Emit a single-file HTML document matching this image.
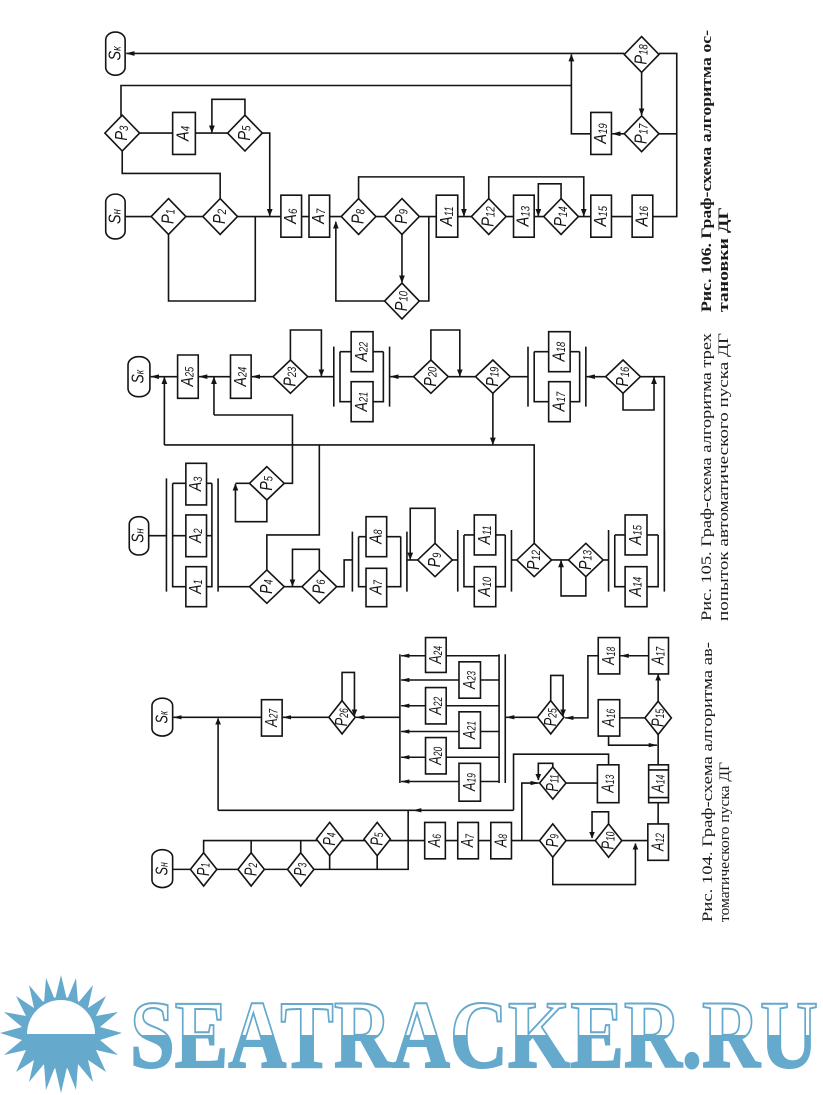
<!DOCTYPE html>
<html><head><meta charset="utf-8"><style>
html,body{margin:0;padding:0;background:#fff;}
svg{display:block;}
.g path{fill:none;stroke:#141414;stroke-width:1.6;vector-effect:non-scaling-stroke;}
.g rect,.g polygon{fill:#fff;stroke:#141414;stroke-width:1.6;vector-effect:non-scaling-stroke;}
.g text{font-family:"Liberation Sans",sans-serif;font-style:italic;font-size:42px;fill:#141414;text-anchor:middle;dominant-baseline:central;}
.g tspan{font-size:28px;}
.cap{font-family:"Liberation Serif","DejaVu Serif",serif;font-size:15px;fill:#1a1a1a;}
</style></head><body>
<svg width="823" height="1095" viewBox="0 0 823 1095" xmlns="http://www.w3.org/2000/svg">
<defs>
<marker id="a" markerUnits="userSpaceOnUse" markerWidth="22" markerHeight="14" refX="20" refY="7" orient="auto"><path d="M0,0 L22,7 L0,14 z" fill="#141414"/></marker>
<clipPath id="top"><rect x="0" y="960" width="823" height="75"/></clipPath>
<clipPath id="bot"><rect x="0" y="1035" width="823" height="60"/></clipPath>
</defs>

<!-- FIG 106 -->
<g class="g" transform="translate(90,20) scale(0.4132,0.3448)">
<path d="M85,570 H1420 V97 H1377"/>
<path d="M1293,97 H88" marker-end="url(#a)"/>
<path d="M1335,152 V276" marker-end="url(#a)"/>
<path d="M1377,330 H1420"/>
<path d="M1293,330 H1264" marker-end="url(#a)"/>
<path d="M1212,330 H1165 V100" marker-end="url(#a)"/>
<path d="M1165,190 H75 V278"/>
<path d="M120,328 H333"/>
<path d="M375,276 V230 H295 V326" marker-end="url(#a)"/>
<path d="M417,328 H435 V568" marker-end="url(#a)"/>
<path d="M78,380 V445 H315 V518"/>
<path d="M190,622 V815 H400 V570"/>
<path d="M650,518 V455 H905 V568" marker-end="url(#a)"/>
<path d="M713,815 H595 V585" marker-end="url(#a)"/>
<path d="M755,622 V761" marker-end="url(#a)"/>
<path d="M797,815 H820 V570"/>
<path d="M965,518 V455 H1195 V568" marker-end="url(#a)"/>
<path d="M1140,520 V475 H1085 V568" marker-end="url(#a)"/>
<rect x="38" y="35" width="47" height="125" rx="23"/>
<rect x="38" y="505" width="47" height="130" rx="23"/>
<polygon points="190,518 232,570 190,622 148,570"/>
<polygon points="315,518 357,570 315,622 273,570"/>
<polygon points="650,518 692,570 650,622 608,570"/>
<polygon points="755,518 797,570 755,622 713,570"/>
<polygon points="965,518 1007,570 965,622 923,570"/>
<polygon points="1140,518 1182,570 1140,622 1098,570"/>
<polygon points="755,763 797,815 755,867 713,815"/>
<polygon points="78,276 120,328 78,380 36,328"/>
<polygon points="375,276 417,328 375,380 333,328"/>
<polygon points="1335,48 1377,100 1335,152 1293,100"/>
<polygon points="1335,278 1377,330 1335,382 1293,330"/>
<rect x="462" y="508" width="50" height="122"/>
<rect x="530" y="508" width="50" height="122"/>
<rect x="838" y="508" width="52" height="122"/>
<rect x="1025" y="508" width="50" height="122"/>
<rect x="1212" y="508" width="50" height="122"/>
<rect x="1312" y="508" width="50" height="122"/>
<rect x="200" y="268" width="55" height="122"/>
<rect x="1212" y="268" width="50" height="122"/>
<text transform="translate(62,97) rotate(-90)">S<tspan dy="4">к</tspan></text>
<text transform="translate(62,570) rotate(-90)">S<tspan dy="4">н</tspan></text>
<text transform="translate(190,570) rotate(-90)">P<tspan dy="6">1</tspan></text>
<text transform="translate(315,570) rotate(-90)">P<tspan dy="6">2</tspan></text>
<text transform="translate(650,570) rotate(-90)">P<tspan dy="6">8</tspan></text>
<text transform="translate(755,570) rotate(-90)">P<tspan dy="6">9</tspan></text>
<text transform="translate(965,570) rotate(-90)">P<tspan dy="6">12</tspan></text>
<text transform="translate(1140,570) rotate(-90)">P<tspan dy="6">14</tspan></text>
<text transform="translate(755,815) rotate(-90)">P<tspan dy="6">10</tspan></text>
<text transform="translate(78,328) rotate(-90)">P<tspan dy="6">3</tspan></text>
<text transform="translate(375,328) rotate(-90)">P<tspan dy="6">5</tspan></text>
<text transform="translate(1335,100) rotate(-90)">P<tspan dy="6">18</tspan></text>
<text transform="translate(1335,330) rotate(-90)">P<tspan dy="6">17</tspan></text>
<text transform="translate(487,569) rotate(-90)">A<tspan dy="6">6</tspan></text>
<text transform="translate(555,569) rotate(-90)">A<tspan dy="6">7</tspan></text>
<text transform="translate(864,569) rotate(-90)">A<tspan dy="6">11</tspan></text>
<text transform="translate(1050,569) rotate(-90)">A<tspan dy="6">13</tspan></text>
<text transform="translate(1237,569) rotate(-90)">A<tspan dy="6">15</tspan></text>
<text transform="translate(1337,569) rotate(-90)">A<tspan dy="6">16</tspan></text>
<text transform="translate(227,329) rotate(-90)">A<tspan dy="6">4</tspan></text>
<text transform="translate(1237,329) rotate(-90)">A<tspan dy="6">19</tspan></text>
</g>

<!-- FIG 105 -->
<g class="g" transform="translate(90,320) scale(0.4132,0.3333)">
<path d="M212,170 H147" marker-end="url(#a)"/>
<path d="M340,170 H264" marker-end="url(#a)"/>
<path d="M443,170 H392" marker-end="url(#a)"/>
<path d="M590,170 H527"/>
<path d="M783,170 H727" marker-end="url(#a)"/>
<path d="M933,170 H867"/>
<path d="M1060,170 H1017"/>
<path d="M1248,170 H1202" marker-end="url(#a)"/>
<path d="M1390,720 V170 H1332"/>
<path d="M485,120 V30 H560 V168" marker-end="url(#a)"/>
<path d="M825,120 V30 H895 V168" marker-end="url(#a)"/>
<path d="M1290,220 V270 H1365 V172" marker-end="url(#a)"/>
<path d="M975,220 V373" marker-end="url(#a)"/>
<path d="M180,375 H1075 V670"/>
<path d="M180,375 V172" marker-end="url(#a)"/>
<path d="M300,285 V172" marker-end="url(#a)"/>
<path d="M300,285 H490 V490 H470"/>
<path d="M428,540 V605 H352 V492" marker-end="url(#a)"/>
<path d="M352,490 H386"/>
<path d="M555,375 V645 H428 V750"/>
<path d="M142,647 H185"/>
<path d="M310,800 H386"/>
<path d="M470,800 H513"/>
<path d="M555,750 V688 H490 V798" marker-end="url(#a)"/>
<path d="M597,800 H615 V720 H635"/>
<path d="M767,720 H793"/>
<path d="M835,670 V565 H775 V718" marker-end="url(#a)"/>
<path d="M877,720 H890"/>
<path d="M1020,720 H1033"/>
<path d="M1117,720 H1158"/>
<path d="M1200,770 V828 H1140 V722" marker-end="url(#a)"/>
<path d="M1242,720 H1255"/>
<path d="M590,80 V260 M725,80 V260 M605,95 V245 H632 M605,95 H632 M710,95 V245 H685 M710,95 H685"/>
<path d="M1060,80 V260 M1200,80 V260 M1075,95 V245 H1110 M1075,95 H1110 M1185,95 V245 H1162 M1185,95 H1162"/>
<path d="M185,475 V815 M310,475 V815 M200,490 V800 H232 M200,490 H232 M200,647 H232 M295,490 V800 H282 M295,490 H282 M295,647 H282"/>
<path d="M635,635 V815 M767,635 V815 M650,650 V800 H668 M650,650 H668 M752,650 V800 H718 M752,650 H718"/>
<path d="M890,630 V815 M1020,630 V815 M905,645 V800 H930 M905,645 H930 M1005,645 V800 H982 M1005,645 H982"/>
<path d="M1255,630 V815 M1390,630 V815 M1270,645 V800 H1295 M1270,645 H1295 M1375,645 V800 H1348 M1375,645 H1348"/>
<rect x="92" y="110" width="53" height="120" rx="25"/>
<rect x="95" y="590" width="47" height="115" rx="23"/>
<rect x="212" y="105" width="50" height="130"/>
<rect x="340" y="105" width="50" height="130"/>
<rect x="632" y="35" width="53" height="120"/>
<rect x="632" y="185" width="53" height="120"/>
<rect x="1110" y="35" width="52" height="120"/>
<rect x="1110" y="185" width="52" height="120"/>
<rect x="232" y="430" width="50" height="125"/>
<rect x="232" y="585" width="50" height="125"/>
<rect x="232" y="740" width="50" height="120"/>
<rect x="668" y="590" width="50" height="120"/>
<rect x="668" y="745" width="50" height="115"/>
<rect x="930" y="585" width="52" height="120"/>
<rect x="930" y="740" width="52" height="120"/>
<rect x="1295" y="585" width="53" height="120"/>
<rect x="1295" y="740" width="53" height="120"/>
<polygon points="485,120 527,170 485,220 443,170"/>
<polygon points="825,120 867,170 825,220 783,170"/>
<polygon points="975,120 1017,170 975,220 933,170"/>
<polygon points="1290,120 1332,170 1290,220 1248,170"/>
<polygon points="428,440 470,490 428,540 386,490"/>
<polygon points="428,750 470,800 428,850 386,800"/>
<polygon points="555,750 597,800 555,850 513,800"/>
<polygon points="835,670 877,720 835,770 793,720"/>
<polygon points="1075,670 1117,720 1075,770 1033,720"/>
<polygon points="1200,670 1242,720 1200,770 1158,720"/>
<text transform="translate(118,170) rotate(-90)">S<tspan dy="4">к</tspan></text>
<text transform="translate(118,647) rotate(-90)">S<tspan dy="4">н</tspan></text>
<text transform="translate(237,170) rotate(-90)">A<tspan dy="6">25</tspan></text>
<text transform="translate(365,170) rotate(-90)">A<tspan dy="6">24</tspan></text>
<text transform="translate(658,95) rotate(-90)">A<tspan dy="6">22</tspan></text>
<text transform="translate(658,245) rotate(-90)">A<tspan dy="6">21</tspan></text>
<text transform="translate(1136,95) rotate(-90)">A<tspan dy="6">18</tspan></text>
<text transform="translate(1136,245) rotate(-90)">A<tspan dy="6">17</tspan></text>
<text transform="translate(257,492) rotate(-90)">A<tspan dy="6">3</tspan></text>
<text transform="translate(257,647) rotate(-90)">A<tspan dy="6">2</tspan></text>
<text transform="translate(257,800) rotate(-90)">A<tspan dy="6">1</tspan></text>
<text transform="translate(693,650) rotate(-90)">A<tspan dy="6">8</tspan></text>
<text transform="translate(693,802) rotate(-90)">A<tspan dy="6">7</tspan></text>
<text transform="translate(956,645) rotate(-90)">A<tspan dy="6">11</tspan></text>
<text transform="translate(956,800) rotate(-90)">A<tspan dy="6">10</tspan></text>
<text transform="translate(1321,645) rotate(-90)">A<tspan dy="6">15</tspan></text>
<text transform="translate(1321,800) rotate(-90)">A<tspan dy="6">14</tspan></text>
<text transform="translate(485,170) rotate(-90)">P<tspan dy="6">23</tspan></text>
<text transform="translate(825,170) rotate(-90)">P<tspan dy="6">20</tspan></text>
<text transform="translate(975,170) rotate(-90)">P<tspan dy="6">19</tspan></text>
<text transform="translate(1290,170) rotate(-90)">P<tspan dy="6">16</tspan></text>
<text transform="translate(428,490) rotate(-90)">P<tspan dy="6">5</tspan></text>
<text transform="translate(428,800) rotate(-90)">P<tspan dy="6">4</tspan></text>
<text transform="translate(555,800) rotate(-90)">P<tspan dy="6">6</tspan></text>
<text transform="translate(835,720) rotate(-90)">P<tspan dy="6">9</tspan></text>
<text transform="translate(1075,720) rotate(-90)">P<tspan dy="6">12</tspan></text>
<text transform="translate(1200,720) rotate(-90)">P<tspan dy="6">13</tspan></text>
</g>

<!-- FIG 104 -->
<g class="g" transform="translate(90,630) scale(0.4132,0.3030)">
<path d="M415,288 H202" marker-end="url(#a)"/>
<path d="M310,595 V292" marker-end="url(#a)"/>
<path d="M578,288 H467" marker-end="url(#a)"/>
<path d="M750,288 H644" marker-end="url(#a)"/>
<path d="M610,233 V140 H640 V282" marker-end="url(#a)"/>
<path d="M1083,288 H1007" marker-end="url(#a)"/>
<path d="M750,80 V505 M990,80 V505 M1005,80 V505"/>
<path d="M990,85 H753" marker-end="url(#a)"/>
<path d="M990,165 H753" marker-end="url(#a)"/>
<path d="M990,250 H753" marker-end="url(#a)"/>
<path d="M990,335 H753" marker-end="url(#a)"/>
<path d="M990,420 H753" marker-end="url(#a)"/>
<path d="M990,500 H753" marker-end="url(#a)"/>
<path d="M1230,85 H1205 V290 H1150" marker-end="url(#a)"/>
<path d="M1115,233 V150 H1145 V282" marker-end="url(#a)"/>
<path d="M1352,85 H1284" marker-end="url(#a)"/>
<path d="M1375,235 V147" marker-end="url(#a)"/>
<path d="M1343,290 H1282"/>
<path d="M1255,350 V380 H1372" marker-end="url(#a)"/>
<path d="M1375,345 V445 M1375,570 V640"/>
<path d="M200,790 H770 V595"/>
<path d="M275,735 V695 H1350"/>
<path d="M390,735 V695 M510,735 V695"/>
<path d="M580,745 V790 M695,745 V790"/>
<path d="M1025,595 H782" marker-end="url(#a)"/>
<path d="M782,595 H310"/>
<path d="M1025,595 V410 H1255 V445"/>
<path d="M1045,695 V505 H1086" marker-end="url(#a)"/>
<path d="M1120,452 V440 H1085 V495" marker-end="url(#a)"/>
<path d="M1152,505 H1228"/>
<path d="M1120,750 V840 H1320 V705" marker-end="url(#a)"/>
<path d="M1255,640 V600 H1215 V686" marker-end="url(#a)"/>
<rect x="150" y="225" width="50" height="125" rx="25"/>
<rect x="150" y="725" width="50" height="125" rx="25"/>
<rect x="810" y="635" width="50" height="120"/>
<rect x="890" y="635" width="50" height="120"/>
<rect x="970" y="635" width="50" height="120"/>
<rect x="1350" y="640" width="50" height="120"/>
<rect x="1228" y="445" width="52" height="125"/>
<rect x="1352" y="445" width="48" height="125"/>
<path d="M1352,462 H1400 M1352,553 H1400"/>
<rect x="1230" y="230" width="52" height="120"/>
<rect x="1352" y="25" width="48" height="120"/>
<rect x="1230" y="25" width="52" height="120"/>
<rect x="415" y="230" width="50" height="120"/>
<rect x="893" y="440" width="52" height="125"/>
<rect x="812" y="355" width="50" height="120"/>
<rect x="893" y="270" width="52" height="120"/>
<rect x="812" y="190" width="50" height="120"/>
<rect x="893" y="105" width="52" height="120"/>
<rect x="812" y="25" width="50" height="115"/>
<polygon points="275,735 307,790 275,845 243,790"/>
<polygon points="390,735 422,790 390,845 358,790"/>
<polygon points="510,735 542,790 510,845 478,790"/>
<polygon points="580,635 612,690 580,745 548,690"/>
<polygon points="695,635 727,690 695,745 663,690"/>
<polygon points="1120,640 1152,695 1120,750 1088,695"/>
<polygon points="1255,640 1287,695 1255,750 1223,695"/>
<polygon points="1120,452 1152,505 1120,558 1088,505"/>
<polygon points="1375,235 1407,290 1375,345 1343,290"/>
<polygon points="1115,233 1147,288 1115,343 1083,288"/>
<polygon points="610,233 642,288 610,343 578,288"/>
<text transform="translate(175,288) rotate(-90)">S<tspan dy="4">к</tspan></text>
<text transform="translate(175,788) rotate(-90)">S<tspan dy="4">н</tspan></text>
<text transform="translate(275,790) rotate(-90)">P<tspan dy="6">1</tspan></text>
<text transform="translate(390,790) rotate(-90)">P<tspan dy="6">2</tspan></text>
<text transform="translate(510,790) rotate(-90)">P<tspan dy="6">3</tspan></text>
<text transform="translate(580,690) rotate(-90)">P<tspan dy="6">4</tspan></text>
<text transform="translate(695,690) rotate(-90)">P<tspan dy="6">5</tspan></text>
<text transform="translate(1120,695) rotate(-90)">P<tspan dy="6">9</tspan></text>
<text transform="translate(1255,695) rotate(-90)">P<tspan dy="6">10</tspan></text>
<text transform="translate(1120,505) rotate(-90)">P<tspan dy="6">11</tspan></text>
<text transform="translate(1375,290) rotate(-90)">P<tspan dy="6">15</tspan></text>
<text transform="translate(1115,288) rotate(-90)">P<tspan dy="6">25</tspan></text>
<text transform="translate(610,288) rotate(-90)">P<tspan dy="6">26</tspan></text>
<text transform="translate(835,695) rotate(-90)">A<tspan dy="6">6</tspan></text>
<text transform="translate(915,695) rotate(-90)">A<tspan dy="6">7</tspan></text>
<text transform="translate(995,695) rotate(-90)">A<tspan dy="6">8</tspan></text>
<text transform="translate(1375,700) rotate(-90)">A<tspan dy="6">12</tspan></text>
<text transform="translate(1254,507) rotate(-90)">A<tspan dy="6">13</tspan></text>
<text transform="translate(1376,507) rotate(-90)">A<tspan dy="6">14</tspan></text>
<text transform="translate(1256,290) rotate(-90)">A<tspan dy="6">16</tspan></text>
<text transform="translate(1376,85) rotate(-90)">A<tspan dy="6">17</tspan></text>
<text transform="translate(1256,85) rotate(-90)">A<tspan dy="6">18</tspan></text>
<text transform="translate(440,290) rotate(-90)">A<tspan dy="6">27</tspan></text>
<text transform="translate(919,502) rotate(-90)">A<tspan dy="6">19</tspan></text>
<text transform="translate(837,415) rotate(-90)">A<tspan dy="6">20</tspan></text>
<text transform="translate(919,330) rotate(-90)">A<tspan dy="6">21</tspan></text>
<text transform="translate(837,250) rotate(-90)">A<tspan dy="6">22</tspan></text>
<text transform="translate(919,165) rotate(-90)">A<tspan dy="6">23</tspan></text>
<text transform="translate(837,82) rotate(-90)">A<tspan dy="6">24</tspan></text>
</g>

<!-- captions -->
<text class="cap" font-weight="bold" transform="translate(711,312) rotate(-90)" textLength="282" lengthAdjust="spacingAndGlyphs">Рис. 106. Граф-схема алгоритма ос-</text>
<text class="cap" font-weight="bold" transform="translate(728,312) rotate(-90)" textLength="105" lengthAdjust="spacingAndGlyphs">тановки ДГ</text>
<text class="cap" transform="translate(711,621) rotate(-90)" textLength="288" lengthAdjust="spacingAndGlyphs">Рис. 105. Граф-схема алгоритма трех</text>
<text class="cap" transform="translate(728,621) rotate(-90)" textLength="288" lengthAdjust="spacingAndGlyphs">попыток автоматического пуска ДГ</text>
<text class="cap" transform="translate(712,922) rotate(-90)" textLength="280" lengthAdjust="spacingAndGlyphs">Рис. 104. Граф-схема алгоритма ав-</text>
<text class="cap" transform="translate(729,922) rotate(-90)" textLength="160" lengthAdjust="spacingAndGlyphs">томатического пуска ДГ</text>

<!-- watermark sun -->
<g fill="#65a9cc">
<polygon points="61,975 67,1000 76,978 78,1003 93,985 88,1008 106,996 96,1016 118,1012 100,1027 122,1033 100,1040 118,1055 96,1050 106,1072 88,1060 93,1082 78,1064 76,1090 67,1067 61,1093 55,1067 46,1090 44,1064 29,1082 34,1060 16,1072 26,1050 4,1055 22,1040 0,1033 22,1027 4,1012 26,1016 16,996 34,1008 29,985 44,1003 46,978 55,1000"/>
<circle cx="61" cy="1033" r="36"/>
</g>
<path d="M27,1034 A34,34 0 0 1 95,1034 Z" fill="#fff"/>
<g font-family="'Liberation Serif',serif" font-weight="bold" font-size="96">
<text x="130" y="1067" textLength="688" lengthAdjust="spacingAndGlyphs" fill="#fff" stroke="#65a9cc" stroke-width="2" clip-path="url(#top)">SEATRACKER.RU</text>
<text x="130" y="1067" textLength="688" lengthAdjust="spacingAndGlyphs" fill="#65a9cc" stroke="#65a9cc" stroke-width="2" clip-path="url(#bot)">SEATRACKER.RU</text>
</g>
</svg>
</body></html>
